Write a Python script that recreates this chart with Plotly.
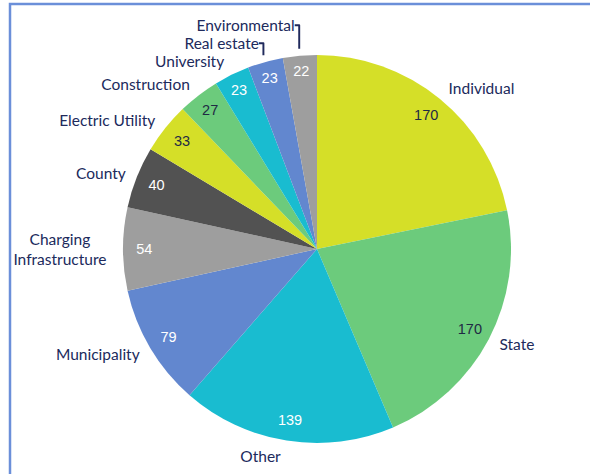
import plotly.graph_objects as go

categories = ["Individual", "State", "Other", "Municipality", "Charging<br>Infrastructure",
              "County", "Electric Utility", "Construction", "University", "Real estate",
              "Environmental"]
values = [170, 170, 139, 79, 54, 40, 33, 27, 23, 23, 22]
slice_colors = ["#d5df28", "#6ccb7c", "#19bcd0", "#6287cf", "#9e9e9e", "#525252",
                "#d5df28", "#6ccb7c", "#19bcd0", "#6287cf", "#9e9e9e"]
value_text_colors = ["#1f2a44", "#1f2a44", "#ffffff", "#ffffff", "#ffffff", "#ffffff",
                     "#1f2a44", "#1f2a44", "#ffffff", "#ffffff", "#ffffff"]

W, H = 590, 474
cx, cy, r = 317, 249, 194
r_lab = 201


def dom(rad):
    return dict(x=[(cx - rad) / W, (cx + rad) / W],
                y=[(H - cy - rad) / H, (H - cy + rad) / H])


fig = go.Figure()
# Colored pie
fig.add_trace(go.Pie(
    labels=categories, values=values, sort=False, direction="clockwise", rotation=0,
    marker=dict(colors=slice_colors, line=dict(width=0)),
    textinfo="none", domain=dom(r), showlegend=False, hoverinfo="label+value",
))
# Transparent ring carrying the values near the outer edge
fig.add_trace(go.Pie(
    labels=categories, values=values, sort=False, direction="clockwise", rotation=0,
    hole=0.78,
    marker=dict(colors=["rgba(0,0,0,0)"] * len(values), line=dict(width=0)),
    textinfo="value", textposition="inside", insidetextorientation="horizontal",
    insidetextfont=dict(family="Liberation Sans, Arial, sans-serif", size=14.5,
                        color=value_text_colors),
    domain=dom(r), showlegend=False, hoverinfo="skip",
))
# Transparent, slightly larger pie carrying the category labels outside
fig.add_trace(go.Pie(
    labels=categories, values=values, sort=False, direction="clockwise", rotation=0,
    marker=dict(colors=["rgba(0,0,0,0)"] * len(values), line=dict(width=0)),
    textinfo="label", textposition="outside",
    outsidetextfont=dict(family="Lato, Open Sans, sans-serif", size=15.5, color="#202a5c"),
    domain=dom(r_lab), showlegend=False, hoverinfo="skip",
))

fig.update_layout(
    width=W, height=H, margin=dict(l=0, r=0, t=0, b=0),
    paper_bgcolor="white", plot_bgcolor="white",
    shapes=[dict(type="rect", xref="paper", yref="paper",
                 x0=10 / W, x1=1.05, y0=-0.05, y1=1 - 4 / H,
                 line=dict(color="#6b8fd9", width=2.5), fillcolor="rgba(0,0,0,0)")],
)
fig.write_html("out.html", config={"displayModeBar": False},
               post_script="document.body.style.margin='0';document.body.style.overflow='hidden';")
